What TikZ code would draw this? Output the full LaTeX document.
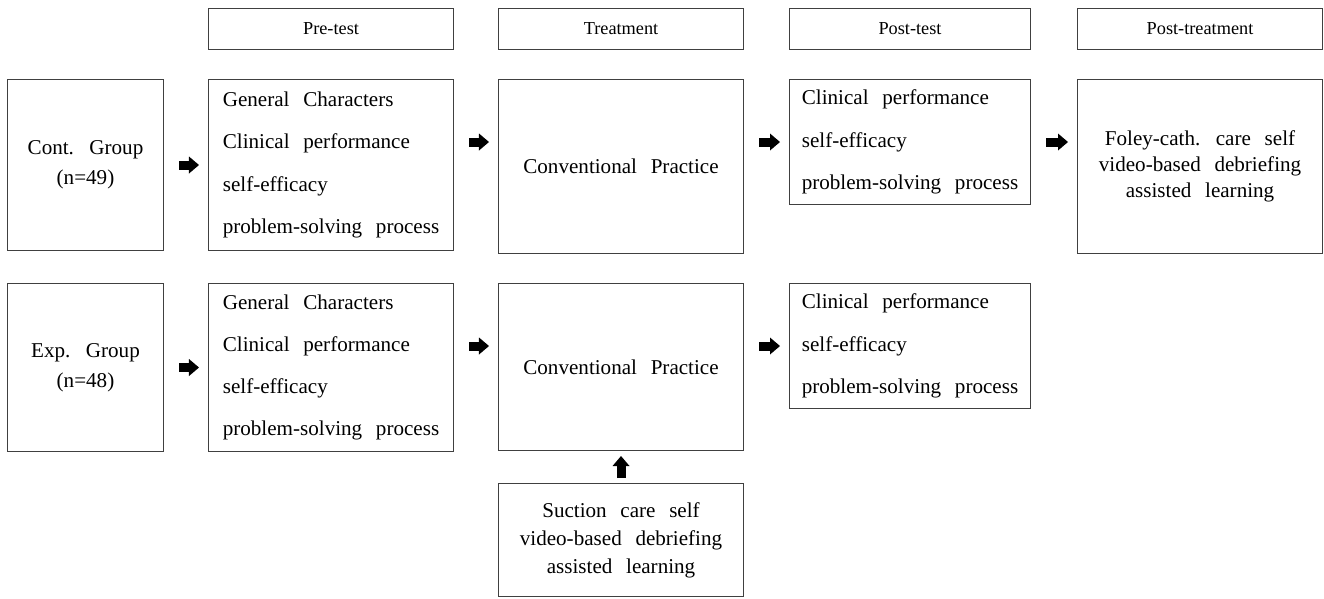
\documentclass[tikz,border=0pt]{standalone}
\usepackage{fontspec}
\setmainfont{Liberation Serif}[WordSpace=2.6]
\usepackage{tikz}
\usetikzlibrary{arrows.meta}

\begin{document}
\begin{tikzpicture}[
                x=0.025cm, y=-0.025cm,
                every node/.style={
                    draw=black!75,
                    line width=0.7pt,
                    inner sep=0,
                    anchor=north west,
                    font=\fontsize{15}{21}\selectfont
                },
                head/.style={minimum width=6.125cm, minimum height=1.025cm, font=\fontsize{13}{16}\selectfont},
                group/.style={minimum width=3.9cm, align=center},
                measure/.style={align=left, font=\fontsize{15}{30}\selectfont},
                practice/.style={minimum width=6.125cm, align=center},
                bigarrow/.style={
                    line width=6.4pt,
                    -{Triangle[length=0.25cm, width=0.425cm, line width=0pt]},
                    shorten <=0.375cm, shorten >=0.225cm
                }
            ]
            \useasboundingbox (0,0) rectangle (1324,599);
            % 列标题
            \node[head] (hpre) at (208,8) {Pre-test};
            \node[head] (htrt) at (498,8) {Treatment};
            \node[head, minimum width=6.025cm] (hpost) at (789,8) {Post-test};
            \node[head] (hptrt) at (1077,8) {Post-treatment};
            % 对照组
            \node[group, minimum height=4.275cm] (cont) at (7,79) {Cont. Group\\(n=49)};
            \node[measure, minimum width=6.125cm, minimum height=4.275cm] (pre1) at (208,79)
                {General Characters\\Clinical performance\\self-efficacy\\problem-solving process};
            \node[practice, minimum height=4.35cm] (trt1) at (498,79) {Conventional Practice};
            \node[measure, minimum width=6.025cm, minimum height=3.125cm] (post1) at (789,79)
                {Clinical performance\\self-efficacy\\problem-solving process};
            \node[practice, minimum height=4.35cm, font=\fontsize{15}{18.5}\selectfont] (ptrt) at (1077,79)
                {Foley-cath. care self\\video-based debriefing\\assisted learning};
            % 实验组
            \node[group, minimum height=4.2cm] (exp) at (7,283) {Exp. Group\\(n=48)};
            \node[measure, minimum width=6.125cm, minimum height=4.2cm] (pre2) at (208,283)
                {General Characters\\Clinical performance\\self-efficacy\\problem-solving process};
            \node[practice, minimum height=4.175cm] (trt2) at (498,283) {Conventional Practice};
            \node[measure, minimum width=6.025cm, minimum height=3.125cm] (post2) at (789,283)
                {Clinical performance\\self-efficacy\\problem-solving process};
            \node[practice, minimum height=2.825cm, font=\fontsize{15}{20}\selectfont] (suc) at (498,483)
                {Suction care self\\video-based debriefing\\assisted learning};
            % 箭头
            \draw[bigarrow] (cont) -- (pre1);
            \draw[bigarrow] (pre1.east |- post1.west) -- (trt1.west |- post1.west);
            \draw[bigarrow] (trt1.east |- post1.west) -- (post1.west);
            \draw[bigarrow] (post1.east) -- (ptrt.west |- post1.east);
            \draw[bigarrow] (exp) -- (pre2);
            \draw[bigarrow] (pre2.east |- post2.west) -- (trt2.west |- post2.west);
            \draw[bigarrow] (trt2.east |- post2.west) -- (post2.west);
            \draw[bigarrow, shorten <=0.125cm, shorten >=0.125cm] (suc) -- (trt2);
\end{tikzpicture}
\end{document}
